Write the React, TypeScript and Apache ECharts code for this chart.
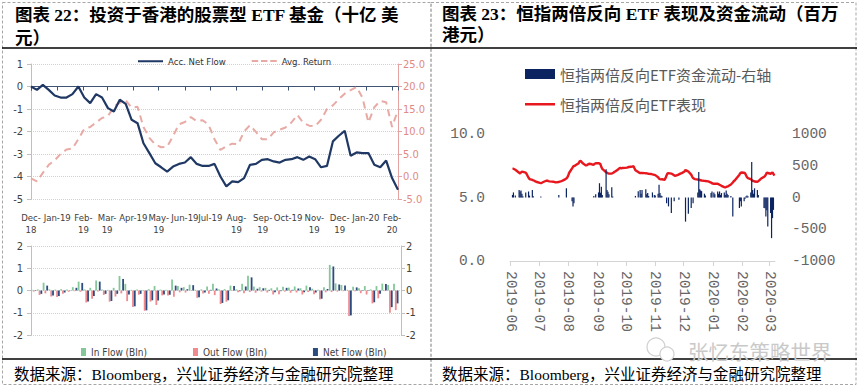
import React, { useEffect, useRef } from 'react';
import * as echarts from 'echarts';

// ---------- Left panel: Hong Kong equity ETFs (weekly) ----------
const weekDates = [
  '2018-12-01', '2018-12-08', '2018-12-15', '2018-12-22', '2018-12-29',
  '2019-01-05', '2019-01-12', '2019-01-19', '2019-01-26',
  '2019-02-02', '2019-02-09', '2019-02-16', '2019-02-23',
  '2019-03-02', '2019-03-09', '2019-03-16', '2019-03-23', '2019-03-30',
  '2019-04-06', '2019-04-13', '2019-04-20', '2019-04-27',
  '2019-05-04', '2019-05-11', '2019-05-18', '2019-05-25',
  '2019-06-01', '2019-06-08', '2019-06-15', '2019-06-22', '2019-06-29',
  '2019-07-06', '2019-07-13', '2019-07-20', '2019-07-27',
  '2019-08-03', '2019-08-10', '2019-08-17', '2019-08-24', '2019-08-31',
  '2019-09-07', '2019-09-14', '2019-09-21', '2019-09-28',
  '2019-10-05', '2019-10-12', '2019-10-19', '2019-10-26',
  '2019-11-02', '2019-11-09', '2019-11-16', '2019-11-23', '2019-11-30',
  '2019-12-07', '2019-12-14', '2019-12-21', '2019-12-28',
  '2020-01-04', '2020-01-11', '2020-01-18', '2020-01-25',
  '2020-02-01', '2020-02-08',
];

const accNetFlow = [
  0.0, -0.15, 0.07, -0.15, -0.4, -0.49, -0.49, -0.34, 0.0, -0.49,
  -0.74, -0.34, -0.49, -0.96, -1.11, -0.59, -0.77, -1.48, -1.63, -2.52,
  -2.96, -3.41, -3.59, -3.78, -3.56, -3.44, -3.38, -3.14, -3.44, -3.53,
  -3.53, -3.44, -4.0, -4.44, -4.22, -4.25, -4.07, -3.48, -3.44, -3.26,
  -3.23, -3.33, -3.38, -3.26, -3.23, -3.14, -3.26, -3.11, -3.23, -3.59,
  -3.53, -2.44, -2.19, -1.97, -3.08, -2.93, -2.96, -2.96, -3.48, -3.59,
  -3.29, -4.07, -4.59,
];

const avgReturn = [
  -0.4, -1.1, 0.8, 2.6, 3.6, 5.0, 6.0, 6.2, 8.3, 10.6,
  11.0, 12.0, 13.0, 13.4, 15.5, 16.4, 16.9, 15.3, 15.5, 11.0,
  8.6, 7.1, 6.5, 6.6, 9.0, 11.6, 12.1, 13.2, 12.3, 12.5,
  11.5, 8.3, 5.9, 6.7, 7.3, 7.2, 10.0, 11.4, 9.9, 8.3,
  8.3, 9.8, 10.4, 10.9, 12.0, 13.7, 11.9, 11.3, 11.2, 12.6,
  15.0, 15.8, 17.2, 18.4, 19.2, 19.9, 17.5, 12.0, 15.4, 16.8,
  16.5, 11.0, 14.8,
];

const inFlow = [
  0.03, 0.05, 0.35, 0.05, 0.04, 0.06, 0.05, 0.15, 0.4, 0.05,
  0.12, 0.45, 0.05, 0.03, 0.12, 0.65, 0.3, 0.03, 0.04, 0.02,
  0.06, 0.2, 0.04, 0.03, 0.5, 0.2, 0.15, 0.26, 0.03, 0.05,
  0.18, 0.3, 0.05, 0.06, 0.22, 0.05, 0.3, 0.66, 0.18, 0.15,
  0.12, 0.1, 0.14, 0.17, 0.13, 0.18, 0.1, 0.22, 0.08, 0.03,
  0.15, 1.15, 0.32, 0.25, 0.03, 0.17, 0.1, 0.2, 0.05, 0.2,
  0.31, 0.25, 0.3,
];

const outFlow = [
  -0.05, -0.2, -0.13, -0.27, -0.29, -0.15, -0.06, -0.03, -0.06, -0.54,
  -0.37, -0.05, -0.2, -0.5, -0.27, -0.13, -0.48, -0.74, -0.19, -0.91,
  -0.5, -0.65, -0.22, -0.22, -0.28, -0.08, -0.09, -0.02, -0.33, -0.14,
  -0.15, -0.21, -0.61, -0.5, -0.02, -0.08, -0.12, -0.07, -0.1, -0.05,
  -0.09, -0.18, -0.17, -0.05, -0.1, -0.09, -0.18, -0.07, -0.17, -0.4,
  -0.08, -0.07, -0.05, -0.03, -1.15, -0.03, -0.12, -0.18, -0.58, -0.35,
  -0.02, -1.0, -0.88,
];

const netFlow = [
  -0.02, -0.15, 0.22, -0.22, -0.25, -0.09, -0.01, 0.12, 0.34, -0.49,
  -0.25, 0.4, -0.15, -0.47, -0.15, 0.52, -0.18, -0.71, -0.15, -0.89,
  -0.44, -0.45, -0.18, -0.19, 0.22, 0.12, 0.06, 0.24, -0.3, -0.09,
  0.03, 0.09, -0.56, -0.44, 0.2, -0.03, 0.18, 0.59, 0.08, 0.1,
  0.03, -0.08, -0.03, 0.12, 0.03, 0.09, -0.08, 0.15, -0.09, -0.37,
  0.07, 1.08, 0.27, 0.22, -1.12, 0.14, -0.02, 0.02, -0.53, -0.15,
  0.29, -0.75, -0.58,
];

const monthTickLabels = [
  'Dec-\n18', 'Jan-19', 'Feb-\n19', 'Mar-\n19', 'Apr-19', 'May-\n19', 'Jun-19', 'Jul-19',
  'Aug-\n19', 'Sep-\n19', 'Oct-19', 'Nov-\n19', 'Dec-\n19', 'Jan-20', 'Feb-\n20',
];

// ---------- Right panel: HSI 2x inverse ETF (daily) ----------
const etfTradingDays: [string, number[]][] = [
  ['2019-06', [3, 4, 5, 6, 10, 11, 12, 13, 14, 17, 18, 19, 20, 21, 24, 25, 26, 27, 28]],
  ['2019-07', [2, 3, 4, 5, 8, 9, 10, 11, 12, 15, 16, 17, 18, 19, 22, 23, 24, 25, 26, 29, 30, 31]],
  ['2019-08', [1, 2, 5, 6, 7, 8, 9, 12, 13, 14, 15, 16, 19, 20, 21, 22, 23, 26, 27, 28, 29, 30]],
  ['2019-09', [2, 3, 4, 5, 6, 9, 10, 11, 12, 13, 16, 17, 18, 19, 20, 23, 24, 25, 26, 27, 30]],
  ['2019-10', [2, 3, 4, 8, 9, 10, 11, 14, 15, 16, 17, 18, 21, 22, 23, 24, 25, 28, 29, 30, 31]],
  ['2019-11', [1, 4, 5, 6, 7, 8, 11, 12, 13, 14, 15, 18, 19, 20, 21, 22, 25, 26, 27, 28, 29]],
  ['2019-12', [2, 3, 4, 5, 6, 9, 10, 11, 12, 13, 16, 17, 18, 19, 20, 23, 24, 27, 30, 31]],
  ['2020-01', [2, 3, 6, 7, 8, 9, 10, 13, 14, 15, 16, 17, 20, 21, 22, 23, 24, 29, 30, 31]],
  ['2020-02', [3, 4, 5, 6, 7, 10, 11, 12, 13, 14, 17, 18, 19, 20, 21, 24, 25, 26, 27, 28]],
  ['2020-03', [2, 3, 4, 5, 6]],
];

const etfPerformance = [
  7.25, 7.26, 7.22, 7.18, 6.95, 6.88, 6.98, 7.04, 7.02, 6.96, 6.85, 6.7, 6.55, 6.45, 6.38, 6.35, 6.33, 6.27, 6.24,
  6.15, 6.13, 6.16, 6.2, 6.3, 6.33, 6.32, 6.29, 6.27, 6.25, 6.24, 6.23, 6.2, 6.19, 6.22, 6.25, 6.27, 6.3, 6.33, 6.45, 6.5, 6.58,
  6.75, 6.95, 7.3, 7.42, 7.48, 7.5, 7.55, 7.7, 7.85, 7.88, 7.8, 7.72, 7.55, 7.52, 7.56, 7.62, 7.66, 7.62, 7.58, 7.6, 7.66, 7.7,
  7.7, 7.68, 7.62, 7.4, 7.25, 7.05, 6.98, 6.95, 6.9, 6.88, 6.88, 6.93, 6.97, 7.03, 7.06, 7.22, 7.3, 7.33, 7.3, 7.32, 7.33,
  7.35, 7.38, 7.4, 7.44, 7.46, 7.3, 7.15, 7.0, 6.95, 6.92, 6.93, 6.94, 6.92, 6.9, 6.91, 6.88, 6.87, 6.85, 6.82, 6.8, 6.78,
  6.76, 6.6, 6.48, 6.45, 6.43, 6.44, 6.4, 6.55, 6.75, 6.9, 6.92, 6.88, 6.85, 6.8, 6.74, 6.71, 6.78, 6.82, 6.86, 6.9, 6.92,
  7.05, 7.18, 7.12, 7.08, 7.05, 6.8, 6.65, 6.53, 6.48, 6.45, 6.42, 6.4, 6.38, 6.36, 6.34, 6.31, 6.3, 6.27, 6.18, 6.12,
  6.08, 6.08, 6.08, 6.05, 6.0, 5.96, 5.92, 5.82, 5.79, 5.83, 5.86, 5.88, 6.02, 6.1, 6.18, 6.28, 6.34, 6.8, 6.92, 6.97,
  6.95, 6.9, 6.75, 6.6, 6.53, 6.45, 6.38, 6.32, 6.3, 6.26, 6.24, 6.28, 6.35, 6.42, 6.5, 6.62, 6.68, 6.8, 6.97, 6.93,
  6.87, 6.92, 6.97, 6.85, 6.72,
];

const etfFlows: [string, number][] = [
  ['2019-06-03', 40], ['2019-06-04', 80], ['2019-06-06', 30], ['2019-06-10', 120], ['2019-06-11', 95],
  ['2019-06-12', 110], ['2019-06-13', 60], ['2019-06-14', 20], ['2019-06-17', 80], ['2019-06-20', 95],
  ['2019-06-21', 30], ['2019-06-24', 120], ['2019-06-25', 20], ['2019-07-03', 15], ['2019-07-22', 40],
  ['2019-07-30', 145], ['2019-08-05', -60], ['2019-08-06', -140], ['2019-08-07', -90], ['2019-08-28', 25],
  ['2019-08-30', 50], ['2019-09-02', 80], ['2019-09-03', 225], ['2019-09-04', 75], ['2019-09-05', 170],
  ['2019-09-06', 40], ['2019-09-10', 445], ['2019-09-11', 120], ['2019-09-12', 90], ['2019-09-13', 50],
  ['2019-09-16', 160], ['2019-09-17', 15], ['2019-10-11', 25], ['2019-10-14', 100], ['2019-10-16', 120],
  ['2019-10-17', 60], ['2019-10-18', 120], ['2019-10-22', 130], ['2019-10-23', 50], ['2019-10-24', 70],
  ['2019-10-25', 25], ['2019-10-29', 80], ['2019-10-31', 40], ['2019-11-01', 30], ['2019-11-04', 60],
  ['2019-11-05', 200], ['2019-11-06', 70], ['2019-11-07', 30], ['2019-11-08', 25], ['2019-11-13', -90],
  ['2019-11-15', -140], ['2019-11-18', -245], ['2019-11-21', -60], ['2019-11-26', -35], ['2019-12-03', -380],
  ['2019-12-06', -255], ['2019-12-09', -165], ['2019-12-11', -90], ['2019-12-16', 80], ['2019-12-17', 400],
  ['2019-12-18', 130], ['2019-12-19', 110], ['2019-12-20', 100], ['2019-12-23', 60], ['2019-12-24', 30],
  ['2019-12-30', 70], ['2019-12-31', 95], ['2020-01-02', 80], ['2020-01-03', 50], ['2020-01-06', 95],
  ['2020-01-07', 60], ['2020-01-08', 95], ['2020-01-09', 40], ['2020-01-10', 70], ['2020-01-13', 80],
  ['2020-01-14', 40], ['2020-01-15', 110], ['2020-01-16', 60], ['2020-01-17', 40], ['2020-01-20', 25],
  ['2020-01-22', -300], ['2020-01-29', -165], ['2020-01-30', -60], ['2020-01-31', -140], ['2020-02-03', -60],
  ['2020-02-04', -20], ['2020-02-05', 20], ['2020-02-06', 30], ['2020-02-07', 20], ['2020-02-10', 80],
  ['2020-02-11', 560], ['2020-02-12', 120], ['2020-02-13', 60], ['2020-02-14', 145], ['2020-02-17', 120],
  ['2020-02-18', 40], ['2020-02-24', -165], ['2020-02-25', -170], ['2020-02-26', -300], ['2020-02-27', -200],
  ['2020-02-28', -455], ['2020-03-02', -245], ['2020-03-03', -640], ['2020-03-04', -325], ['2020-03-05', -195],
];

const etfTickLabels = [
  '2019-06', '2019-07', '2019-08', '2019-09', '2019-10',
  '2019-11', '2019-12', '2020-01', '2020-02', '2020-03',
];

const leftTitle = '图表 22：投资于香港的股票型 ETF 基金（十亿 美\n元）';
const rightTitle = '图表 23：恒指两倍反向 ETF 表现及资金流动（百万\n港元）';
const sourceText = '数据来源：Bloomberg，兴业证券经济与金融研究院整理';
const watermarkText = '张忆东策略世界';

const NARROW = "'Liberation Sans Narrow', 'Arial Narrow', 'DejaVu Sans Condensed', sans-serif";
const MONO = "'Liberation Mono', 'DejaVu Sans Mono', monospace";
const CJK = "'Noto Sans CJK SC', sans-serif";
const SERIF = "'Liberation Serif', 'Noto Sans CJK SC', serif";
const DAY = 86400000;

// legend icons: thin solid line / dashed line inside a 10px-high box
const ICON_SOLID = 'path://M0,0L0.01,0M0,4H30V6.5H0ZM0,10L0.01,10';
const ICON_DASH = 'path://M0,0L0.01,0M0,4H7V6H0ZM10,4H17V6H10ZM20,4H27V6H20ZM0,10L0.01,10';

const pad2 = (n: number) => (n < 10 ? '0' + n : '' + n);

export default function App() {
  const ref = useRef<HTMLDivElement>(null);

  useEffect(() => {
    if (!ref.current) return;
    const chart = echarts.init(ref.current, undefined, { renderer: 'svg' });

    const etfDates: string[] = [];
    etfTradingDays.forEach(([ym, days]) => days.forEach((d) => etfDates.push(ym + '-' + pad2(d))));

    const leftMin = +new Date(2018, 11, 1);
    const leftMax = +new Date(2020, 1, 8);
    const barMax = +new Date(2020, 1, 11);
    const etfMin = +new Date(2019, 5, 1);
    const etfMax = +new Date(2020, 2, 6);

    const leftMonthLabel = (v: number) => {
      const d = new Date(v);
      if (d.getDate() !== 1) return '';
      const idx = (d.getFullYear() - 2018) * 12 + d.getMonth() - 11;
      return monthTickLabels[idx] ?? '';
    };
    const etfMonthLabel = (v: number) => {
      const d = new Date(v);
      if (d.getDate() !== 1) return '';
      const idx = (d.getFullYear() - 2019) * 12 + d.getMonth() - 5;
      return etfTickLabels[idx] ?? '';
    };

    const grayAxis = { show: true, onZero: false, lineStyle: { color: '#bfbfbf', width: 1 } };
    const grayTick = { show: true, length: 4, lineStyle: { color: '#bfbfbf' } };
    const dotted = { show: true, lineStyle: { color: '#d0d0d0', type: 'dotted', width: 1 } };

    const option: any = {
      animation: false,
      backgroundColor: '#ffffff',
      grid: [
        { left: 31, top: 64, width: 367, height: 135 },
        { left: 31, top: 246, width: 370, height: 89 },
        { left: 510, top: 134, width: 265, height: 127 },
      ],
      xAxis: [
        {
          type: 'time', gridIndex: 0, min: leftMin, max: leftMax, position: 'bottom',
          minInterval: 28 * DAY, maxInterval: 31 * DAY,
          axisLine: { show: false, onZero: false }, axisTick: { show: false }, splitLine: { show: false },
          axisLabel: { formatter: leftMonthLabel, color: '#404040', fontSize: 9.5, fontFamily: NARROW, lineHeight: 12.5, margin: 12, hideOverlap: false },
        },
        {
          type: 'time', gridIndex: 0, min: leftMin, max: leftMax, position: 'top',
          minInterval: 28 * DAY, maxInterval: 31 * DAY,
          axisLine: { show: true, onZero: true, lineStyle: { color: '#3f5373', width: 1 } },
          axisTick: { show: true, inside: true, length: 4, lineStyle: { color: '#3f5373' } },
          axisLabel: { show: false }, splitLine: { show: false },
        },
        {
          type: 'time', gridIndex: 1, min: leftMin, max: barMax, position: 'bottom',
          axisLine: { show: false, onZero: false }, axisTick: { show: false },
          axisLabel: { show: false }, splitLine: { show: false },
        },
        {
          type: 'time', gridIndex: 2, min: etfMin, max: etfMax, position: 'bottom',
          minInterval: 28 * DAY, maxInterval: 31 * DAY,
          axisLine: { show: true, onZero: false, lineStyle: { color: '#d4d4d4', width: 1 } },
          axisTick: { show: true, length: 5, lineStyle: { color: '#d4d4d4' } },
          splitLine: { show: false },
          axisLabel: { formatter: etfMonthLabel, rotate: -90, color: '#666666', fontSize: 14.5, fontFamily: MONO, margin: 10, hideOverlap: false },
        },
      ],
      yAxis: [
        {
          type: 'value', gridIndex: 0, position: 'left', min: -5, max: 1, interval: 1,
          axisLine: grayAxis, axisTick: grayTick, splitLine: dotted,
          axisLabel: { color: '#404040', fontSize: 11, fontFamily: NARROW, margin: 8 },
        },
        {
          type: 'value', gridIndex: 0, position: 'right', min: -5, max: 25, interval: 5,
          axisLine: { show: true, onZero: false, lineStyle: { color: '#e4a3a0' } },
          axisTick: { show: true, length: 4, lineStyle: { color: '#e4a3a0' } },
          splitLine: { show: false },
          axisLabel: { color: '#e08a85', fontSize: 11, fontFamily: NARROW, margin: 5, formatter: (v: number) => v.toFixed(1) },
        },
        {
          type: 'value', gridIndex: 1, position: 'left', min: -2, max: 2, interval: 1,
          axisLine: grayAxis, axisTick: grayTick, splitLine: dotted,
          axisLabel: { color: '#404040', fontSize: 11, fontFamily: NARROW, margin: 8 },
        },
        {
          type: 'value', gridIndex: 1, position: 'right', min: -2, max: 2, interval: 1,
          axisLine: grayAxis, axisTick: grayTick, splitLine: { show: false },
          axisLabel: { color: '#404040', fontSize: 11, fontFamily: NARROW, margin: 5 },
        },
        {
          type: 'value', gridIndex: 2, position: 'left', min: 0, max: 10, interval: 5,
          axisLine: { show: false, onZero: false }, axisTick: { show: false }, splitLine: { show: false },
          axisLabel: { color: '#666666', fontSize: 14.5, fontFamily: MONO, margin: 25, formatter: (v: number) => v.toFixed(1) },
        },
        {
          type: 'value', gridIndex: 2, position: 'right', min: -1000, max: 1000, interval: 500,
          axisLine: { show: false, onZero: false }, axisTick: { show: false }, splitLine: { show: false },
          axisLabel: { color: '#666666', fontSize: 14.5, fontFamily: MONO, margin: 17, formatter: (v: number) => String(v) },
        },
      ],
      legend: [
        {
          data: [
            { name: 'Acc. Net Flow', icon: ICON_SOLID },
            { name: 'Avg. Return', icon: ICON_DASH },
          ],
          left: 133, top: 51, itemWidth: 25, itemHeight: 10, itemGap: 26,
          itemStyle: { borderWidth: 0 },
          textStyle: { color: '#333333', fontSize: 9.5, fontFamily: NARROW },
        },
        {
          data: ['In Flow (Bln)', 'Out Flow (Bln)', 'Net Flow (Bln)'], left: 76, top: 342, icon: 'rect',
          itemWidth: 5, itemHeight: 8, itemGap: 46,
          itemStyle: { borderWidth: 0 },
          textStyle: { color: '#404040', fontSize: 10, fontFamily: NARROW },
        },
        {
          data: [
            { name: '恒指两倍反向ETF资金流动-右轴', icon: 'rect' },
            { name: '恒指两倍反向ETF表现', icon: ICON_SOLID },
          ],
          orient: 'vertical', left: 520, top: 61, itemWidth: 30, itemHeight: 10, itemGap: 14,
          itemStyle: { borderWidth: 0 },
          textStyle: { color: '#595959', fontSize: 15, fontFamily: CJK, lineHeight: 16 },
        },
      ],
      series: [
        {
          name: 'Avg. Return', type: 'line', xAxisIndex: 0, yAxisIndex: 1, symbol: 'none', z: 2,
          data: weekDates.map((d, i) => [d, avgReturn[i]]),
          lineStyle: { color: '#e8aaa5', width: 2, type: [7, 5] }, itemStyle: { color: '#e8aaa5' },
        },
        {
          name: 'Acc. Net Flow', type: 'line', xAxisIndex: 0, yAxisIndex: 0, symbol: 'none', z: 3,
          data: weekDates.map((d, i) => [d, accNetFlow[i]]),
          lineStyle: { color: '#1f3864', width: 2.2 }, itemStyle: { color: '#1f3864' },
        },
        {
          name: 'In Flow (Bln)', type: 'bar', xAxisIndex: 2, yAxisIndex: 2, barWidth: 1.8, barGap: '0%',
          data: weekDates.map((d, i) => [d, inFlow[i]]), itemStyle: { color: '#86c79a' },
        },
        {
          name: 'Out Flow (Bln)', type: 'bar', xAxisIndex: 2, yAxisIndex: 2, barWidth: 1.8, barGap: '0%',
          data: weekDates.map((d, i) => [d, outFlow[i]]), itemStyle: { color: '#f08a8f' },
        },
        {
          name: 'Net Flow (Bln)', type: 'bar', xAxisIndex: 2, yAxisIndex: 2, barWidth: 1.8, barGap: '0%',
          data: weekDates.map((d, i) => [d, netFlow[i]]), itemStyle: { color: '#2b4c7e' },
        },
        {
          name: '恒指两倍反向ETF表现', type: 'line', xAxisIndex: 3, yAxisIndex: 4, symbol: 'none', z: 2,
          data: etfDates.map((d, i) => [d, etfPerformance[i]]),
          lineStyle: { color: '#e8161d', width: 2.4 }, itemStyle: { color: '#e8161d' },
        },
        {
          name: '恒指两倍反向ETF资金流动-右轴', type: 'bar', xAxisIndex: 3, yAxisIndex: 5, barWidth: 1.2, z: 3,
          data: etfFlows, itemStyle: { color: '#0b2461' },
        },
      ],
      graphic: [
        { type: 'rect', silent: true, shape: { x: 2.5, y: 2.5, width: 428.5, height: 382 }, style: { fill: 'none', stroke: '#a6a6a6', lineWidth: 1, lineDash: [3, 2] } },
        { type: 'rect', silent: true, shape: { x: 431, y: 2.5, width: 425, height: 382 }, style: { fill: 'none', stroke: '#a6a6a6', lineWidth: 1, lineDash: [3, 2] } },
        { type: 'line', silent: true, shape: { x1: 2, y1: 48, x2: 857, y2: 48 }, style: { stroke: '#000', lineWidth: 1.5 } },
        { type: 'line', silent: true, shape: { x1: 2, y1: 359, x2: 857, y2: 359 }, style: { stroke: '#000', lineWidth: 1.5 } },
        { type: 'text', x: 15, y: 3, style: { text: leftTitle, fontSize: 17.5, fontWeight: 'bold', fontFamily: SERIF, fill: '#000', lineHeight: 23 } },
        { type: 'text', x: 442, y: 3, style: { text: rightTitle, fontSize: 17.5, fontWeight: 'bold', fontFamily: SERIF, fill: '#000', lineHeight: 21 } },
        { type: 'text', x: 14, y: 374, style: { text: sourceText, fontSize: 15.5, fontFamily: SERIF, fill: '#000', verticalAlign: 'middle' } },
        { type: 'text', x: 442, y: 374, style: { text: sourceText, fontSize: 15.5, fontFamily: SERIF, fill: '#000', verticalAlign: 'middle' } },
        { type: 'circle', silent: true, shape: { cx: 656, cy: 347, r: 9 }, style: { fill: '#fff', stroke: '#cfcfcf', lineWidth: 1.2 } },
        { type: 'circle', silent: true, shape: { cx: 667, cy: 354, r: 7 }, style: { fill: '#fff', stroke: '#cfcfcf', lineWidth: 1.2 } },
        { type: 'text', x: 688, y: 351, style: { text: watermarkText, fontSize: 20.5, fontFamily: CJK, fill: '#c9c9c9', verticalAlign: 'middle' } },
      ],
    };

    chart.setOption(option);
    return () => chart.dispose();
  }, []);

  return (
    <div
      ref={ref}
      style={{ position: 'fixed', left: 0, top: 0, width: 861, height: 390, background: '#fff' }}
    />
  );
}
